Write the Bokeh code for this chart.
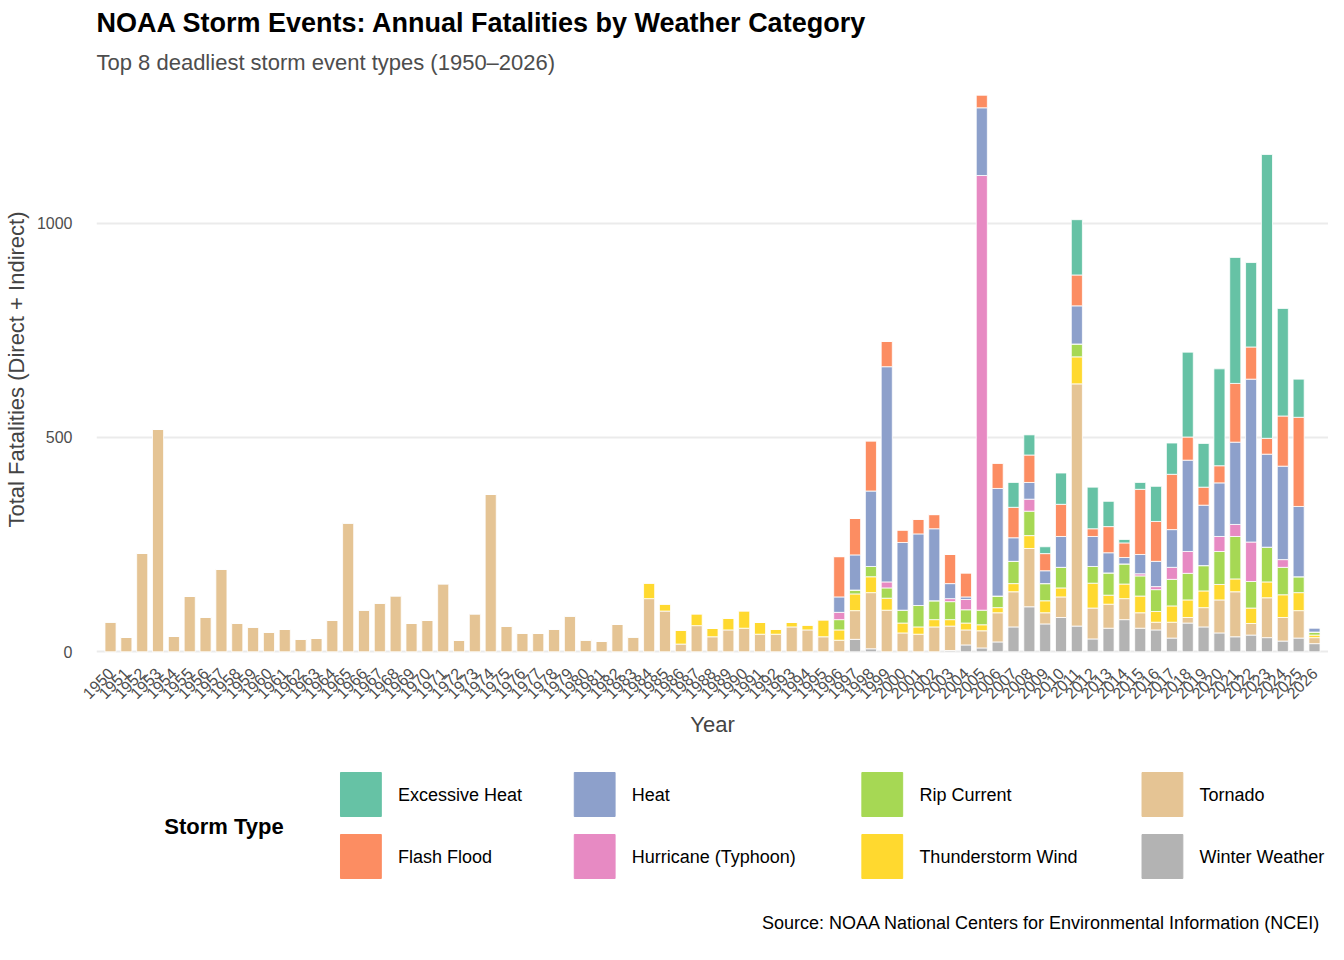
from math import pi
from bokeh.layouts import column
from bokeh.models import ColumnDataSource, Title, Range1d
from bokeh.plotting import figure
from bokeh.embed import file_html
from bokeh.resources import INLINE

years = [str(y) for y in range(1950, 2027)]

# 1950-1994: only tornado and (from 1984) thunderstorm wind recorded
tornado_early = [70, 34, 230, 519, 36, 129, 81, 193, 67, 58, 46, 52, 30, 31, 73, 301, 98, 114, 131, 66,
                 73, 159, 27, 89, 367, 60, 44, 43, 53, 84, 28, 24, 64, 35, 124, 95, 18, 61, 35, 51,
                 55, 41, 41, 58, 51]
tstm_early = [0] * 34 + [37, 17, 33, 28, 20, 28, 41, 28, 12, 11, 12]

# 1995-2026
winter_late = [0, 0, 29, 7, 0, 0, 0, 0, 3, 16, 9, 23, 58, 105, 65, 80, 60, 30, 55, 75, 55, 51, 32, 67,
               58, 44, 35, 39, 33, 25, 32, 19]
tornado_late = [35, 27, 67, 131, 97, 44, 41, 58, 57, 35, 40, 68, 82, 136, 26, 48, 565, 72, 56, 49, 36,
                18, 37, 13, 45, 77, 105, 27, 93, 55, 64, 14]
tstm_late = [40, 24, 39, 37, 28, 23, 17, 17, 15, 16, 14, 12, 19, 30, 28, 21, 63, 58, 21, 34, 39, 25, 38,
             41, 39, 36, 30, 36, 37, 53, 42, 6]
rip_late = [0, 24, 9, 24, 24, 30, 50, 44, 42, 31, 34, 27, 52, 57, 40, 48, 30, 39, 52, 47, 47, 51, 62, 62,
            59, 77, 99, 62, 81, 64, 37, 7]
hurricane_late = [0, 17, 0, 0, 14, 0, 0, 0, 7, 24, 1014, 0, 0, 28, 0, 0, 0, 0, 0, 0, 5, 7, 28, 51, 0, 35,
                  28, 92, 0, 18, 0, 0]
heat_late = [0, 36, 82, 176, 502, 158, 167, 168, 35, 6, 158, 251, 55, 39, 30, 72, 89, 70, 47, 15, 45, 59,
             88, 213, 141, 125, 192, 380, 217, 218, 164, 10]
flash_late = [0, 94, 85, 117, 59, 29, 34, 33, 68, 56, 30, 59, 71, 64, 40, 75, 72, 18, 61, 34, 152, 93,
              129, 54, 42, 40, 137, 75, 37, 117, 208, 0]
excessive_late = [0] * 12 + [58, 47, 16, 73, 129, 97, 59, 8, 16, 82, 73, 198, 102, 226, 294, 197, 662,
                             251, 89, 0]

none_early = [0] * 45
series = {
    "Winter Weather": none_early + winter_late,
    "Tornado": tornado_early + tornado_late,
    "Thunderstorm Wind": tstm_early + tstm_late,
    "Rip Current": none_early + rip_late,
    "Hurricane (Typhoon)": none_early + hurricane_late,
    "Heat": none_early + heat_late,
    "Flash Flood": none_early + flash_late,
    "Excessive Heat": none_early + excessive_late,
}
colors = {
    "Excessive Heat": "#66c2a5", "Flash Flood": "#fc8d62", "Heat": "#8da0cb",
    "Hurricane (Typhoon)": "#e78ac3", "Rip Current": "#a6d854", "Thunderstorm Wind": "#ffd92f",
    "Tornado": "#e5c494", "Winter Weather": "#b3b3b3",
}
legend_order = ["Excessive Heat", "Flash Flood", "Heat", "Hurricane (Typhoon)",
                "Rip Current", "Thunderstorm Wind", "Tornado", "Winter Weather"]

FONT = "Liberation Sans"
data = dict(year=years)
data.update(series)
source = ColumnDataSource(data)

stack = list(series.keys())
p = figure(x_range=years, y_range=Range1d(-18, 1335), width=1328, height=740,
           output_backend="svg", toolbar_location=None, min_border_right=0, min_border_left=20)

p.vbar_stack(stack, x="year", width=0.7, source=source,
             color=[colors[s] for s in stack], line_color="white", line_width=0.8)

p.add_layout(Title(text="Top 8 deadliest storm event types (1950\u20132026)", text_font_size="22px",
                   text_font=FONT, text_font_style="normal", text_color="#4d4d4d"), "above")
p.add_layout(Title(text="NOAA Storm Events: Annual Fatalities by Weather Category", text_font_size="27px",
                   text_font=FONT, text_font_style="bold", text_color="black"), "above")

p.xaxis.axis_label = "Year"
p.yaxis.axis_label = "Total Fatalities (Direct + Indirect)"
for ax in (p.xaxis, p.yaxis):
    ax.axis_label_text_font = FONT
    ax.axis_label_text_font_size = "22px"
    ax.axis_label_text_font_style = "normal"
    ax.major_label_text_font = FONT
    ax.major_label_text_font_size = "16px"
    ax.major_label_text_color = "#4d4d4d"
    ax.axis_line_color = None
    ax.major_tick_line_color = None
    ax.minor_tick_line_color = None
p.xaxis.major_label_orientation = pi / 4
p.yaxis.ticker = [0, 500, 1000]
p.yaxis.major_label_standoff = 18
p.xgrid.grid_line_color = None
p.ygrid.grid_line_color = "#ebebeb"
p.ygrid.grid_line_width = 2
p.outline_line_color = None
p.x_range.range_padding = 0.01

# legend + caption panel, drawn in page pixel coordinates
leg = figure(width=1328, height=204, x_range=Range1d(8, 1336), y_range=Range1d(952, 748),
             output_backend="svg", toolbar_location=None, x_axis_type=None, y_axis_type=None,
             min_border=0, outline_line_color=None)
leg.grid.grid_line_color = None
col_x = [271, 523, 833, 1135]
row_y = [802, 864]
sx, sy, lx, ly, labels, cols = [], [], [], [], [], []
for i, name in enumerate(legend_order):
    c, r = i // 2, i % 2
    sx.append(col_x[c] + 22)
    sy.append(row_y[r])
    lx.append(col_x[c] + 62)
    labels.append(name)
    cols.append(colors[name])
leg.rect(x=sx, y=sy, width=44, height=44, color=cols)
leg.text(x=lx, y=sy, text=labels, text_font_size="18px", text_baseline="middle",
         text_font={"value": FONT}, text_color="black")
leg.text(x=[81], y=[834], text=["Storm Type"], text_font_size="22px", text_font_style="bold",
         text_baseline="middle", text_font={"value": FONT})
leg.text(x=[1327], y=[930], text=["Source: NOAA National Centers for Environmental Information (NCEI)"],
         text_font_size="18px", text_align="right", text_baseline="middle", text_font={"value": FONT})

layout = column(p, leg, spacing=0)
open("out.html", "w").write(file_html(layout, INLINE))
